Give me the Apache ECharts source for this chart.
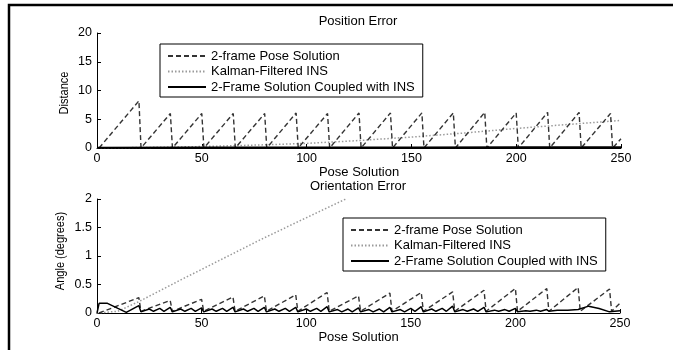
<!DOCTYPE html>
<html>
<head>
<meta charset="utf-8">
<script src="https://cdn.jsdelivr.net/npm/echarts@6/dist/echarts.min.js"></script>
<style>
html,body{margin:0;padding:0;background:#fff;}
#c{width:673px;height:350px;}
</style>
</head>
<body>
<div id="c"></div>
<script>
// ---------- data ----------
var seriesNames = ['2-frame Pose Solution', 'Kalman-Filtered INS', '2-Frame Solution Coupled with INS'];
var xTicks = [0, 50, 100, 150, 200, 250];
var posYTicks = [0, 5, 10, 15, 20];
var oriYTicks = [0, 0.5, 1, 1.5, 2];

// Position error
var posDashX = [1,20,21,35,36,50,51,65,66,80,81,95,96,110,111,125,126,140,141,155,156,170,171,185,186,200,201,215,216,230,231,245,246,250];
var posDashY = [0,8.2,0,6,0,6,0,6,0,6,0,6.1,0,6,0,6.1,0,6.1,0,6.1,0,6.1,0,6.2,0,6.1,0,6.2,0,6.2,0,6,0,1.6];
var posKalX = [0,25,50,75,100,125,150,175,200,225,250];
var posKalY = [0,0.1,0.25,0.5,0.8,1.3,1.9,2.6,3.4,4.1,4.8];
var posCoupX = [0,50,100,150,200,250];
var posCoupY = [0.05,0.08,0.1,0.1,0.12,0.12];

// Orientation error
var oriDashX = [1,20,21,35,36,50,51,65,66,80,81,95,96,110,111,125,126,140,141,155,156,170,171,185,186,200,201,215,216,230,231,245,246,250];
var oriDashY = [0,0.27,0.03,0.22,0.03,0.24,0.03,0.28,0.03,0.3,0.03,0.32,0.03,0.36,0.03,0.3,0.03,0.35,0.03,0.36,0.03,0.37,0.03,0.4,0.03,0.43,0.03,0.43,0.03,0.45,0.03,0.42,0.03,0.17];
var oriKalX = [0,10,20,40,60,80,100,119];
var oriKalY = [0,0.03,0.2,0.58,0.95,1.32,1.67,2.0];
var oriCoupX = [0,1,5,10,14,20,21,25,27,30,32,35,36,40,42,45,47,50,51,55,57,60,62,65,66,70,72,75,77,80,81,85,87,90,92,95,96,100,102,105,107,110,111,115,117,120,122,125,126,130,132,135,137,140,141,145,147,150,152,155,156,160,162,165,167,170,171,175,177,180,182,185,186,190,192,195,197,200,201,205,207,210,212,215,216,220,225,230,235,240,245,250];
var oriCoupY = [0,0.17,0.17,0.08,0.01,0.13,0.02,0.07,0.03,0.08,0.03,0.1,0.02,0.07,0.03,0.08,0.03,0.09,0.02,0.07,0.03,0.08,0.03,0.1,0.02,0.07,0.03,0.08,0.03,0.1,0.02,0.07,0.03,0.08,0.03,0.1,0.02,0.07,0.03,0.08,0.03,0.11,0.02,0.06,0.02,0.07,0.02,0.09,0.02,0.06,0.02,0.07,0.02,0.1,0.02,0.06,0.02,0.08,0.03,0.11,0.02,0.07,0.03,0.08,0.03,0.12,0.02,0.06,0.03,0.07,0.03,0.1,0.02,0.05,0.03,0.06,0.03,0.08,0.02,0.04,0.03,0.05,0.03,0.06,0.03,0.05,0.05,0.06,0.12,0.08,0.02,0.04];

function zip(xs, ys){ var out=[]; for(var i=0;i<xs.length;i++) out.push([xs[i], ys[i]]); return out; }

var FONT = 'Liberation Sans';
var dashStyle = {color:'#333', width:1.4, type:[5,3]};
var dotStyle = {color:'#9a9a9a', width:1.5, type:[1.5,2]};
var solidStyle = {color:'#000', width:2, type:'solid'};

function xAxisCfg(idx){
  return {
    gridIndex: idx, type:'value', min: xTicks[0], max: xTicks[xTicks.length-1], interval: xTicks[1]-xTicks[0],
    name:'Pose Solution', nameLocation:'middle', nameGap:16,
    nameTextStyle:{color:'#000', fontSize:13, fontFamily:FONT},
    axisLine:{show:true, onZero:false, lineStyle:{color:'#000', width:1}},
    axisTick:{show:true, inside:true, length:4, lineStyle:{color:'#000'}},
    axisLabel:{color:'#000', fontSize:12.5, fontFamily:FONT, margin:4},
    splitLine:{show:false}
  };
}
function yAxisCfg(idx, ticks){
  return {
    gridIndex: idx, type:'value', min: ticks[0], max: ticks[ticks.length-1], interval: ticks[1]-ticks[0],
    axisLine:{show:true, lineStyle:{color:'#000', width:1}},
    axisTick:{show:true, inside:true, length:4, lineStyle:{color:'#000'}},
    axisLabel:{color:'#000', fontSize:12.5, fontFamily:FONT, margin:5},
    splitLine:{show:false}
  };
}
function ser(name, xi, xs, ys, style, z){
  return {name:name, type:'line', xAxisIndex:xi, yAxisIndex:xi, data:zip(xs,ys),
    symbol:'none', showSymbol:false, lineStyle:style, itemStyle:{color:style.color}, z:z, animation:false};
}
function legendCfg(left, top){
  return {
    orient:'vertical', left:left, top:top, data:seriesNames,
    backgroundColor:'#fff', borderColor:'#000', borderWidth:1, borderRadius:0,
    padding:[5,8,3,7], itemWidth:38, itemHeight:14, itemGap:1.5,
    itemStyle:{opacity:0},
    textStyle:{color:'#000', fontSize:13, fontFamily:FONT, lineHeight:14},
    selectedMode:false
  };
}
function yName(text, x, y, sx){
  return {type:'text', x:x, y:y, rotation:Math.PI/2, scaleX:sx, silent:true,
    style:{text:text, font:'12.5px "Liberation Sans"', fill:'#000', textAlign:'center', textVerticalAlign:'middle'}};
}

var chart = echarts.init(document.getElementById('c'), null, {renderer:'canvas'});
chart.setOption({
  backgroundColor:'#fff',
  animation:false,
  grid:[
    {left:97, top:33, width:524, height:115},
    {left:97, top:199, width:523, height:114}
  ],
  xAxis:[xAxisCfg(0), xAxisCfg(1)],
  yAxis:[yAxisCfg(0, posYTicks), yAxisCfg(1, oriYTicks)],
  legend:[legendCfg(160, 44), legendCfg(343, 218)],
  series:[
    ser(seriesNames[1], 0, posKalX, posKalY, dotStyle, 2),
    ser(seriesNames[0], 0, posDashX, posDashY, dashStyle, 3),
    ser(seriesNames[2], 0, posCoupX, posCoupY, solidStyle, 4),
    ser(seriesNames[1], 1, oriKalX, oriKalY, dotStyle, 2),
    ser(seriesNames[0], 1, oriDashX, oriDashY, dashStyle, 3),
    ser(seriesNames[2], 1, oriCoupX, oriCoupY, {color:'#000', width:1.5, type:'solid'}, 4)
  ],
  graphic:[
    {type:'polyline', shape:{points:[[9,350],[9,5],[673,5]]}, style:{stroke:'#000', lineWidth:2.5, fill:null}, silent:true},
    {type:'text', x:358, y:21, style:{text:'Position Error', font:'13px "Liberation Sans"', fill:'#000', textAlign:'center', textVerticalAlign:'middle'}},
    {type:'text', x:358, y:186, style:{text:'Orientation Error', font:'13px "Liberation Sans"', fill:'#000', textAlign:'center', textVerticalAlign:'middle'}},
    yName('Distance', 65, 93, 0.88),
    yName('Angle (degrees)', 61, 251, 0.88)
  ]
});
</script>
</body>
</html>
